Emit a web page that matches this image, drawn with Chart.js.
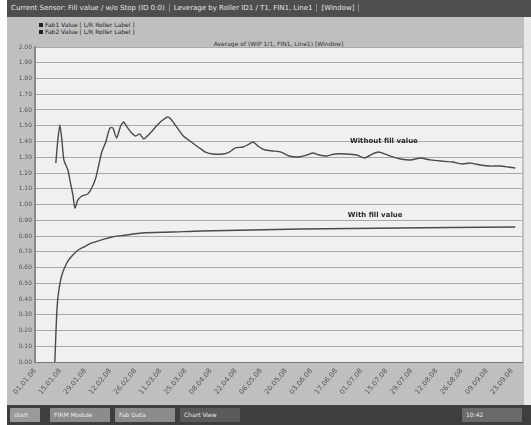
<!DOCTYPE html>
<html>
<head>
<meta charset="utf-8">
<script src="https://cdn.jsdelivr.net/npm/chart.js@4.4.1/dist/chart.umd.min.js"></script>
<style>
  html, body { margin: 0; padding: 0; background: #ffffff; }
  body { width: 531px; height: 425px; position: relative; overflow: hidden; font-family: "DejaVu Sans", Arial, sans-serif; }
  #titlebar { position: absolute; left: 7px; top: 0; width: 524px; height: 17px; background: #4e4e4e; color: #e6e6e6;
    font-size: 7px; line-height: 17px; white-space: nowrap; overflow: hidden; }
  #titlebar span { border-right: 1px solid #8a8a8a; padding: 0 4px; }
  #panel { position: absolute; left: 7px; top: 17px; width: 517px; height: 388px; background: #bfbfbf; }
  #edge { position: absolute; left: 524px; top: 17px; width: 7px; height: 388px; background: #e8e8e8; }
  #legend { position: absolute; left: 39px; top: 21px; font-size: 6px; color: #222; line-height: 7px; }
  #legend div::before { content: ""; display: inline-block; width: 4px; height: 4px; background: #222; margin-right: 2px; vertical-align: middle; }
  #subtitle { position: absolute; left: 35px; width: 487px; top: 40px; text-align: center; font-size: 6px; color: #333; }
  #wrap { position: absolute; left: 7px; top: 40px; width: 517px; height: 365px; }
  #taskbar { position: absolute; left: 7px; top: 405px; width: 524px; height: 20px; background: #3e3e3e; }
  .btn { position: absolute; top: 3px; height: 14px; background: #8c8c8c; color: #eee; font-size: 6px; line-height: 14px; padding-left: 4px; box-sizing: border-box; white-space: nowrap; overflow: hidden; }
</style>
</head>
<body>
<div id="titlebar"><span>Current Sensor: Fill value / w/o Stop (ID 0:0)</span><span>Leverage by Roller ID1 / T1, FIN1, Line1</span><span>[Window]</span></div>
<div id="panel"></div>
<div id="edge"></div>
<div id="legend"><div>Fab1 Value [ L/R Roller Label ]</div><div>Fab2 Value [ L/R Roller Label ]</div></div>
<div id="subtitle">Average of (WIP 1/1, FIN1, Line1) [Window]</div>
<div id="wrap"><canvas id="c" width="517" height="365"></canvas></div>
<div id="taskbar">
  <div class="btn" style="left:3px;width:30px;background:#9a9a9a;">start</div>
  <div class="btn" style="left:43px;width:60px;">FIRM Module</div>
  <div class="btn" style="left:108px;width:60px;">Fab Data</div>
  <div class="btn" style="left:173px;width:60px;background:#5a5a5a;">Chart View</div>
  <div class="btn" style="left:455px;width:60px;background:#6a6a6a;">10:42</div>
</div>
<script>
// Date labels along the time axis (one per step)
const dateLabels = ["01.01.08","15.01.08","29.01.08","12.02.08","26.02.08","11.03.08","25.03.08","08.04.08","22.04.08","06.05.08",
                    "20.05.08","03.06.08","17.06.08","01.07.08","15.07.08","29.07.08","12.08.08","26.08.08","09.09.08","23.09.08"];

// Series without fill value: position on time axis and value
const withoutX = [0.83,0.91,0.99,1.07,1.15,1.31,1.39,1.51,1.59,1.71,1.87,2.10,2.26,2.42,2.54,2.66,2.82,2.98,3.10,3.25,
                  3.41,3.53,3.69,3.85,4.01,4.17,4.33,4.56,4.84,5.04,5.28,5.44,5.67,5.91,6.23,6.55,6.79,7.10,7.50,7.74,
                  7.98,8.29,8.53,8.69,8.93,9.17,9.48,9.80,10.12,10.52,10.83,11.07,11.31,11.63,11.94,12.42,12.82,13.13,13.45,13.69,
                  13.93,14.25,14.56,14.96,15.36,15.75,16.15,16.63,17.02,17.34,17.74,18.13,18.53,18.85,19.13];
const withoutY = [1.263,1.410,1.505,1.410,1.283,1.219,1.156,1.060,0.978,1.029,1.054,1.067,1.105,1.168,1.251,1.333,1.397,1.486,1.486,1.422,
                  1.498,1.524,1.486,1.454,1.435,1.448,1.416,1.448,1.498,1.530,1.556,1.537,1.486,1.435,1.397,1.359,1.333,1.321,1.321,1.333,
                  1.359,1.365,1.384,1.397,1.365,1.346,1.340,1.333,1.308,1.302,1.314,1.327,1.314,1.308,1.321,1.321,1.314,1.295,1.321,1.333,
                  1.321,1.302,1.289,1.283,1.295,1.283,1.276,1.270,1.257,1.263,1.251,1.244,1.244,1.238,1.232];

// Series with fill value
const withX = [0.79,0.83,0.87,0.91,0.99,1.07,1.19,1.31,1.47,1.67,1.94,2.26,2.66,3.06,3.65,4.25,5.44,6.63,8.61,10.60,12.58,14.56,16.55,19.13];
const withY = [0.000,0.171,0.317,0.406,0.495,0.552,0.603,0.641,0.673,0.705,0.730,0.756,0.775,0.794,0.806,0.819,0.825,0.832,0.838,0.844,0.848,0.851,0.854,0.857];

// Value axis ticks
const yTicks = [0.0,0.1,0.2,0.3,0.4,0.5,0.6,0.7,0.8,0.9,1.0,1.1,1.2,1.3,1.4,1.5,1.6,1.7,1.8,1.9,2.0];

// Curve captions
const captions = [
  { text: "Without fill value", x: 13.9, y: 1.405 },
  { text: "With fill value", x: 13.55, y: 0.93 }
];

const toPoints = (xs, ys) => xs.map((x, i) => ({ x: x, y: ys[i] }));

const plotBg = {
  id: "plotBg",
  beforeDraw(chart) {
    const { ctx, chartArea: a } = chart;
    ctx.save();
    ctx.fillStyle = "#f0f0f0";
    ctx.fillRect(a.left, a.top, a.right - a.left, a.bottom - a.top);
    ctx.restore();
  },
  afterDatasetsDraw(chart) {
    const { ctx, scales } = chart;
    ctx.save();
    ctx.font = "bold 7px 'DejaVu Sans', sans-serif";
    ctx.fillStyle = "#2a2a2a";
    ctx.textAlign = "center";
    ctx.textBaseline = "middle";
    captions.forEach(c => ctx.fillText(c.text, scales.x.getPixelForValue(c.x), scales.y.getPixelForValue(c.y)));
    ctx.restore();
  }
};

new Chart(document.getElementById("c"), {
  type: "line",
  data: {
    datasets: [
      { label: "Without fill value", data: toPoints(withoutX, withoutY), borderColor: "#4a4a4a", borderWidth: 1.4, pointRadius: 0, tension: 0.2 },
      { label: "With fill value", data: toPoints(withX, withY), borderColor: "#4a4a4a", borderWidth: 1.4, pointRadius: 0, tension: 0.3 }
    ]
  },
  options: {
    responsive: false,
    animation: false,
    layout: { padding: { top: 7, right: 2, left: 0, bottom: 0 } },
    plugins: { legend: { display: false }, title: { display: false }, tooltip: { enabled: false } },
    scales: {
      x: {
        type: "linear",
        min: 0, max: 19.4,
        afterBuildTicks: s => { s.ticks = dateLabels.map((_, i) => ({ value: i })); },
        afterFit: s => { s.height = 43; },
        ticks: { callback: (v) => dateLabels[v], minRotation: 50, maxRotation: 50, autoSkip: false,
                 font: { size: 7, family: "'DejaVu Sans', sans-serif" }, color: "#555", padding: 2 },
        grid: { display: false, drawTicks: true, tickLength: 3 },
        border: { color: "#777", width: 1 }
      },
      y: {
        min: 0, max: 2.0,
        afterBuildTicks: s => { s.ticks = yTicks.map(v => ({ value: v })); },
        afterFit: s => { s.width = 28; },
        ticks: { callback: v => v.toFixed(2), font: { size: 6, family: "'DejaVu Sans', sans-serif" }, color: "#555", padding: 3 },
        grid: { color: "#a9a9a9", lineWidth: 1, drawTicks: false },
        border: { color: "#888", width: 2 }
      }
    }
  },
  plugins: [plotBg]
});
</script>
</body>
</html>
